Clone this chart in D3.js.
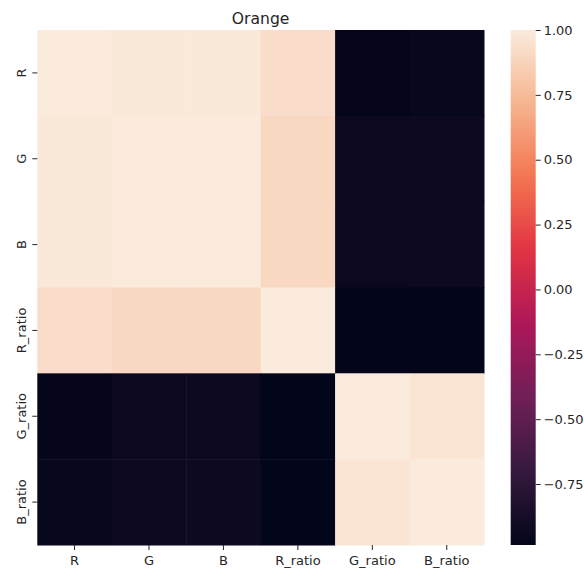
<!DOCTYPE html>
<html>
<head>
<meta charset="utf-8">
<script src="https://cdn.jsdelivr.net/npm/d3@7"></script>
<style>
  html, body { margin: 0; padding: 0; background: #ffffff; }
  svg { display: block; }
  text { font-family: "DejaVu Sans", sans-serif; fill: #262626; }
</style>
</head>
<body>
<svg id="chart" width="584" height="572"></svg>
<script>
// Variables of the correlation matrix (rows and columns share the same order)
const variables = ["R", "G", "B", "R_ratio", "G_ratio", "B_ratio"];

// Correlation coefficients, one row per variable
const rowR      = [ 1.000,  0.985,  0.985,  0.930, -0.975, -0.960];
const rowG      = [ 0.985,  1.000,  0.999,  0.900, -0.940, -0.935];
const rowB      = [ 0.985,  0.999,  1.000,  0.900, -0.940, -0.930];
const rowRratio = [ 0.930,  0.900,  0.900,  1.000, -0.985, -0.985];
const rowGratio = [-0.975, -0.940, -0.940, -0.985,  1.000,  0.970];
const rowBratio = [-0.960, -0.935, -0.930, -0.985,  0.970,  1.000];

// Colorbar tick values
const colorbarTicks = [-0.75, -0.50, -0.25, 0.00, 0.25, 0.50, 0.75, 1.00];

const chartTitle = "Orange";

const matrix = [rowR, rowG, rowB, rowRratio, rowGratio, rowBratio];
const cells = [];
matrix.forEach((row, i) => row.forEach((v, j) => cells.push({ row: variables[i], col: variables[j], value: v })));

const allValues = cells.map(d => d.value);
const vmin = d3.min(allValues);
const vmax = d3.max(allValues);

// "rocket" sequential palette, stops along 0..1
const rocketStops = [
  [0.000, "#03051a"],
  [1 / 7, "#35193e"],
  [2 / 7, "#701f57"],
  [3 / 7, "#ad1759"],
  [4 / 7, "#e13342"],
  [5 / 7, "#f37651"],
  [6 / 7, "#f6b48f"],
  [1.000, "#faebdd"]
];
const color = d3.scaleLinear()
  .domain(rocketStops.map(s => vmin + s[0] * (vmax - vmin)))
  .range(rocketStops.map(s => s[1]))
  .interpolate(d3.interpolateRgb)
  .clamp(true);

const svg = d3.select("#chart");

// Heatmap geometry
const plotLeft = 37.3, plotRight = 484, plotTop = 30, plotBottom = 545;
const x = d3.scaleBand().domain(variables).range([plotLeft, plotRight]).padding(0);
const y = d3.scaleBand().domain(variables).range([plotTop, plotBottom]).padding(0);

svg.append("g")
  .selectAll("rect")
  .data(cells)
  .join("rect")
  .attr("x", d => x(d.col))
  .attr("y", d => y(d.row))
  .attr("width", x.bandwidth() + 0.5)
  .attr("height", y.bandwidth() + 0.5)
  .attr("fill", d => color(d.value));

// Axes
const tickColor = "#262626";
const xAxis = svg.append("g")
  .attr("transform", `translate(0,${plotBottom})`)
  .call(d3.axisBottom(x).tickSize(5).tickPadding(5.5));
const yAxis = svg.append("g")
  .attr("transform", `translate(${plotLeft},0)`)
  .call(d3.axisLeft(y).tickSize(5).tickPadding(4));

[xAxis, yAxis].forEach(g => {
  g.select(".domain").remove();
  g.selectAll(".tick line").attr("stroke", tickColor).attr("stroke-width", 1);
  g.selectAll(".tick text")
    .attr("font-family", "DejaVu Sans, sans-serif")
    .attr("font-size", 13)
    .attr("fill", tickColor);
});

// Rotated row labels on the left, reading upwards
yAxis.selectAll(".tick text")
  .attr("x", null)
  .attr("text-anchor", "middle")
  .attr("transform", "translate(-16,0) rotate(-90)")
  .attr("dy", "0.35em");

// Title
svg.append("text")
  .attr("x", (plotLeft + plotRight) / 2)
  .attr("y", 24)
  .attr("text-anchor", "middle")
  .attr("font-size", 15.6)
  .text(chartTitle);

// Colorbar
const cbLeft = 510.7, cbWidth = 25;
const cbScale = d3.scaleLinear().domain([vmin, vmax]).range([plotBottom, plotTop]);

const defs = svg.append("defs");
const grad = defs.append("linearGradient")
  .attr("id", "cbGrad")
  .attr("x1", 0).attr("y1", 1).attr("x2", 0).attr("y2", 0);
d3.range(0, 1.0001, 0.02).forEach(t => {
  grad.append("stop")
    .attr("offset", t)
    .attr("stop-color", color(vmin + t * (vmax - vmin)));
});

svg.append("rect")
  .attr("x", cbLeft)
  .attr("y", plotTop)
  .attr("width", cbWidth)
  .attr("height", plotBottom - plotTop)
  .attr("fill", "url(#cbGrad)");

const cbAxis = svg.append("g")
  .attr("transform", `translate(${cbLeft + cbWidth},0)`)
  .call(d3.axisRight(cbScale)
    .tickValues(colorbarTicks)
    .tickSize(5)
    .tickPadding(3)
    .tickFormat(d => d3.format(".2f")(d).replace("-", "\u2212")));
cbAxis.select(".domain").remove();
cbAxis.selectAll(".tick line").attr("stroke", tickColor);
cbAxis.selectAll(".tick text")
  .attr("font-family", "DejaVu Sans, sans-serif")
  .attr("font-size", 13)
  .attr("fill", tickColor);
</script>
</body>
</html>
